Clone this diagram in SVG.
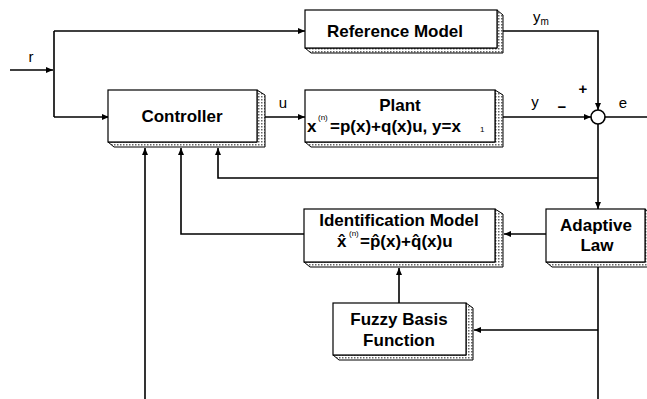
<svg xmlns="http://www.w3.org/2000/svg" width="647" height="399" viewBox="0 0 647 399">
<defs>
<pattern id="dots" width="3" height="3" patternUnits="userSpaceOnUse">
<rect width="3" height="3" fill="#ffffff"/>
<rect width="1.5" height="1.5" fill="#666666"/>
</pattern>
<marker id="arr" markerUnits="userSpaceOnUse" markerWidth="8" markerHeight="6" refX="7" refY="3" orient="auto">
<path d="M0,0 L7,3 L0,6 Z" fill="#000"/>
</marker>
<style>
.face{fill:#fff;stroke:#000;stroke-width:1.2}
.side{fill:url(#dots);stroke:#000;stroke-width:1}
.lbl{font-family:"Liberation Sans",Arial,sans-serif;font-weight:bold;font-size:17px;fill:#000}
.sm{font-family:"Liberation Sans",Arial,sans-serif;font-size:15px;fill:#000}
.sup{font-family:"Liberation Sans",Arial,sans-serif;font-weight:normal;font-size:8px;fill:#000}
.wire{fill:none;stroke:#000;stroke-width:1.6}
</style>
</defs>
<rect width="647" height="399" fill="#fff"/>

<g id="connectors">
<path class="wire" d="M10,70 H53" marker-end="url(#arr)"/>
<path class="wire" d="M54,31 V117"/>
<path class="wire" d="M54,31 H305" marker-end="url(#arr)"/>
<path class="wire" d="M54,117 H109" marker-end="url(#arr)"/>
<path class="wire" d="M265,117 H305" marker-end="url(#arr)"/>
<path class="wire" d="M503,31 H598 V110" marker-end="url(#arr)"/>
<path class="wire" d="M503,117 H591" marker-end="url(#arr)"/>
<path class="wire" d="M605,117 H647"/>
<path class="wire" d="M598,124 V209" marker-end="url(#arr)"/>
<path class="wire" d="M598,178 H218 V148" marker-end="url(#arr)"/>
<path class="wire" d="M546,234 H504" marker-end="url(#arr)"/>
<path class="wire" d="M304,234 H181 V148" marker-end="url(#arr)"/>
<path class="wire" d="M399,303 V268" marker-end="url(#arr)"/>
<path class="wire" d="M598,267 V399"/>
<path class="wire" d="M598,330 H474" marker-end="url(#arr)"/>
<path class="wire" d="M145,399 V148" marker-end="url(#arr)"/>
<circle cx="598" cy="117" r="7" fill="#fff" stroke="#000" stroke-width="1.6"/>
<text class="sm" x="31" y="62" text-anchor="middle">r</text>
<text class="sm" x="283" y="108" text-anchor="middle">u</text>
<text class="sm" x="535" y="107" text-anchor="middle">y</text>
<text class="sm" x="623" y="108" text-anchor="middle">e</text>
<text class="sm" x="533" y="22">y<tspan font-size="10" dy="3">m</tspan></text>
<text class="sm" x="583" y="94" text-anchor="middle" font-size="19" font-weight="bold">+</text>
<text class="sm" x="562" y="112" text-anchor="middle" font-size="18" font-weight="bold">−</text>
</g>

<g id="reference-model">
<polygon class="side" points="497,10 503,15 503,53 311,53 305,48 497,48"/>
<rect class="face" x="305" y="10" width="192" height="38"/>
<text class="lbl" x="395" y="37" text-anchor="middle">Reference Model</text>
</g>

<g id="controller">
<polygon class="side" points="257,90 265,95 265,147 114,147 108,142 257,142"/>
<rect class="face" x="108" y="90" width="149" height="52"/>
<text class="lbl" x="182" y="122" text-anchor="middle">Controller</text>
</g>

<g id="plant">
<polygon class="side" points="495,90 503,95 503,147 311,147 305,142 495,142"/>
<rect class="face" x="305" y="90" width="190" height="52"/>
<text class="lbl" x="400" y="111" text-anchor="middle">Plant</text>
<text class="lbl" x="307" y="132">x<tspan class="sup" x="318" y="120">(n)</tspan><tspan x="330" y="132">=p(x)+q(x)u, y=x</tspan><tspan class="sup" x="480" y="132">1</tspan></text>
</g>

<g id="identification-model">
<polygon class="side" points="495,209 503,214 503,267 310,267 304,262 495,262"/>
<rect class="face" x="304" y="209" width="191" height="53"/>
<text class="lbl" x="399" y="226" text-anchor="middle">Identification Model</text>
<text class="lbl" x="337" y="247">x̂<tspan class="sup" x="349" y="236">(n)</tspan><tspan x="360" y="247">=p̂(x)+q̂(x)u</tspan></text>
</g>

<g id="adaptive-law">
<polygon class="side" points="645,209 651,214 651,267 552,267 546,262 645,262"/>
<rect class="face" x="546" y="209" width="99" height="53"/>
<text class="lbl" x="596" y="231" text-anchor="middle">Adaptive</text>
<text class="lbl" x="597" y="251" text-anchor="middle">Law</text>
</g>

<g id="fuzzy-basis-function">
<polygon class="side" points="466,303 473,308 473,360 339,360 333,355 466,355"/>
<rect class="face" x="333" y="303" width="133" height="52"/>
<text class="lbl" x="399" y="325" text-anchor="middle">Fuzzy Basis</text>
<text class="lbl" x="399" y="346" text-anchor="middle">Function</text>
</g>
</svg>
